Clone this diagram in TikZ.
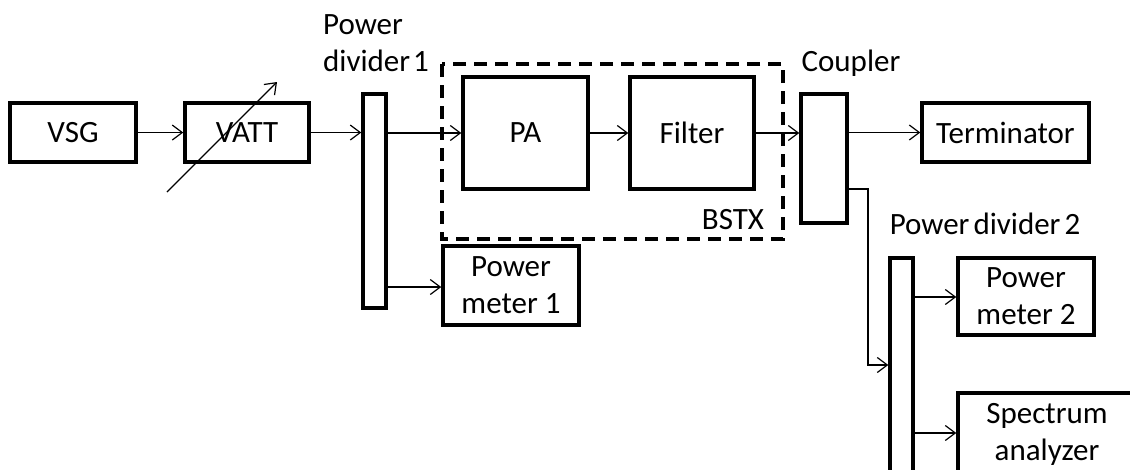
\documentclass[tikz,border=0pt]{standalone}
\usepackage{fontspec}
\setmainfont{Carlito}
\usetikzlibrary{arrows.meta}
\begin{document}
\begin{tikzpicture}[x=1pt,y=-1pt,
  txt/.style={font=\fontsize{31}{37}\selectfont},
  blk/.style={draw,line width=3.5pt,inner sep=0pt,align=center,txt},
  arr/.style={line width=1.2pt,-{Straight Barb[length=10pt,width=15pt,line width=1.2pt]}},
  bstx/.style={draw,line width=3.5pt,dash pattern=on 13pt off 8pt}]
\useasboundingbox (0,0) rectangle (1130,469);
\clip (0,0) rectangle (1130,469);
% blocks
\node[blk,minimum width=126pt,minimum height=59pt] (vsg) at (73,132.5) {VSG};
\node[blk,minimum width=124pt,minimum height=59pt] (vatt) at (247,132.5) {VATT};
\node[blk,minimum width=23pt,minimum height=214pt] (pd1) at (374.5,201) {};
\node[blk,minimum width=125pt,minimum height=112pt] (pa) at (525.5,133) {PA};
\node[blk,minimum width=124pt,minimum height=112pt] (filter) at (692,133) {Filter};
\node[blk,minimum width=136pt,minimum height=79pt] (pm1) at (511,285.5) {Power\\meter 1};
\node[blk,minimum width=46pt,minimum height=129pt] (coupler) at (824,158.5) {};
\node[blk,minimum width=167pt,minimum height=59pt] (term) at (1005.5,132.5) {Terminator};
\node[blk,minimum width=23pt,minimum height=242pt] (pd2) at (901.5,379) {};
\node[blk,minimum width=136pt,minimum height=77pt] (pm2) at (1026,296.5) {Power\\meter 2};
\node[blk,minimum width=179pt,minimum height=127pt] (sa) at (1047.5,456.5) {};
\node[txt,align=center,inner sep=0pt] (satext) at (1047,434) {Spectrum\\analyzer};
% BSTX dashed box
\draw[bstx] (442,64) rectangle (783,239);
% labels
\node[txt,align=left,anchor=west,inner sep=0pt] (lpd1) at (323,43.5) {Power\\divider\kern3pt 1};
\node[txt,inner sep=0pt] (lcoupler) at (851,63) {Coupler};
\node[txt,inner sep=0pt] (lbstx) at (733,220) {BSTX};
\node[txt,inner sep=0pt] (lpd2) at (985,224) {Power\kern4pt divider\kern4pt 2};
% attenuator arrow
\coordinate (attA) at (167,192);
\coordinate (attB) at (277,82);
\draw[arr] (attA) -- (attB);
% connectors
\draw[arr] (vsg.east) -- (vatt.west);
\draw[arr] (vatt.east) -- (pd1.west |- vatt.east);
\draw[arr] (pd1.east |- pa.west) -- (pa.west);
\coordinate (pm1in) at (443,287);
\draw[arr] (pd1.east |- pm1in) -- (pm1.west |- pm1in);
\draw[arr] (pa.east) -- (filter.west);
\draw[arr] (filter.east) -- (coupler.west |- filter.east);
\draw[arr] (coupler.east |- term.west) -- (term.west);
\coordinate (cbend) at (868,189);
\coordinate (cdown) at (868,365);
\draw[arr] (coupler.east |- cbend) -- (cbend) -- (cdown) -- (pd2.west |- cdown);
\coordinate (pm2in) at (958,297);
\coordinate (sain) at (958,433);
\draw[arr] (pd2.east |- pm2in) -- (pm2.west |- pm2in);
\draw[arr] (pd2.east |- sain) -- (sa.west |- sain);
\end{tikzpicture}
\end{document}
